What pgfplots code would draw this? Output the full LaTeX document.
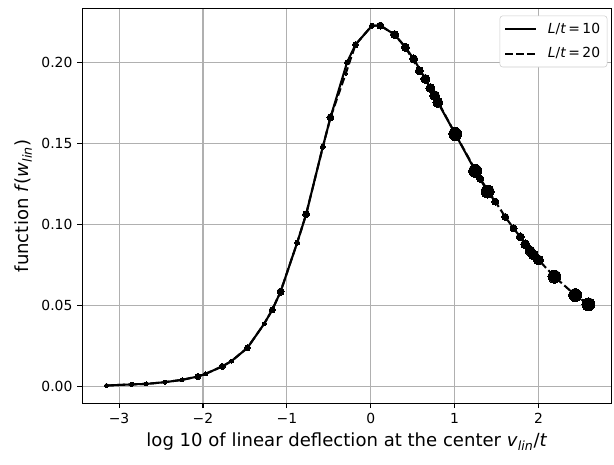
\documentclass[border=0pt]{standalone}
\usepackage{pgfplots}
\pgfplotsset{compat=1.18}
\usepackage{pgfplotstable}
\usepackage{fontspec}
\setmainfont{DejaVu Sans}
\definecolor{gridc}{HTML}{B0B0B0}
\definecolor{legc}{HTML}{CCCCCC}

\pgfplotstableread{
x y r
-3.15 0.0004 2
-2.85 0.0011 2
-2.675 0.0014 2
-2.45 0.0025 2
-2.25 0.0039 2
-2.06 0.0060 3
-1.97 0.0076 2
-1.77 0.0122 3
-1.66 0.0155 2
-1.47 0.0237 3
-1.27 0.0386 2
-1.175 0.0471 3
-1.075 0.0584 3.5
-0.877 0.0887 2.5
-0.77 0.1063 3.5
-0.571 0.1480 2.5
-0.48 0.1661 3.5
-0.30 0.1930 1.5
-0.282 0.2002 2.5
-0.182 0.2111 3
0.015 0.2229 2.5
0.115 0.2229 3.5
0.286 0.2173 4
0.413 0.2095 4
0.512 0.2023 4
0.58 0.1950 4
0.651 0.1899 4.5
0.711 0.1843 4.5
0.762 0.1796 5
0.80 0.1754 5
1.008 0.1559 6.5
1.246 0.1331 6.5
1.306 0.1282 3.5
1.393 0.1203 6.5
1.485 0.1141 3.5
1.604 0.1046 3.5
1.702 0.0976 3.5
1.782 0.0923 4
1.842 0.0877 4.5
1.90 0.0836 5
1.94 0.0811 5
2.0 0.0780 5
2.19 0.0677 6.5
2.437 0.0563 6.5
2.595 0.0506 6.5
}\pts

\pgfplotstableread{
x y
-3.15 0.0004
-2.85 0.0011
-2.675 0.0014
-2.45 0.0025
-2.25 0.0039
-2.06 0.0060
-1.97 0.0076
-1.77 0.0122
-1.66 0.0155
-1.47 0.0237
-1.27 0.0386
-1.175 0.0471
-1.075 0.0584
-0.877 0.0887
-0.77 0.1063
-0.571 0.1480
-0.48 0.1661
-0.282 0.2002
-0.182 0.2111
0.015 0.2229
0.115 0.2229
0.286 0.2173
0.413 0.2095
0.512 0.2023
0.651 0.1899
0.80 0.1754
1.008 0.1559
1.246 0.1331
1.393 0.1203
1.485 0.1141
}\lineA

\pgfplotstableread{
x y
-3.15 0.0004
-2.85 0.0011
-2.675 0.0014
-2.45 0.0025
-2.25 0.0039
-2.06 0.0060
-1.97 0.0076
-1.77 0.0122
-1.66 0.0155
-1.47 0.0237
-1.27 0.0386
-1.175 0.0471
-1.075 0.0584
-0.877 0.0887
-0.77 0.1063
-0.571 0.1480
-0.48 0.1661
-0.30 0.1930
-0.182 0.2111
0.015 0.2229
0.115 0.2229
0.286 0.2173
0.413 0.2095
0.58 0.1950
0.711 0.1843
0.762 0.1796
1.008 0.1559
1.306 0.1282
1.485 0.1141
1.604 0.1046
1.702 0.0976
1.782 0.0923
1.842 0.0877
1.90 0.0836
1.94 0.0811
2.0 0.0780
2.19 0.0677
2.437 0.0563
2.595 0.0506
}\lineB

\begin{document}
\begin{tikzpicture}
\begin{axis}[
  scale only axis,
  width=381pt, height=284pt,
  xmin=-3.44, xmax=2.87,
  ymin=-0.0105, ymax=0.2334,
  xtick={-3,-2,-1,0,1,2},
  xticklabels={−3,−2,−1,0,1,2},
  ytick={0,0.05,0.1,0.15,0.2},
  yticklabels={0.00,0.05,0.10,0.15,0.20},
  tick align=outside, tick pos=left,
  major tick length=3.5pt,
  every tick/.style={black, line width=0.8pt},
  axis line style={line width=0.8pt},
  grid=major,
  major grid style={gridc, line width=0.8pt},
  ticklabel style={font=\fontsize{10}{12}\selectfont},
  label style={font=\fontsize{13}{15}\selectfont},
  xlabel={log 10 of linear deflection at the center \textit{v}\textsubscript{\textit{lin}}/\textit{t}},
  ylabel={function \textit{f}(\textit{w}\textsubscript{\textit{lin}})},
  legend style={at={(1,1)}, anchor=north east, xshift=-3pt, yshift=-5pt,
    draw=legc, rounded corners=2pt, font=\fontsize{10}{12}\selectfont,
    inner xsep=3pt, inner ysep=3pt, row sep=5pt},
  legend cell align=left,
  legend image code/.code={\draw[#1] (0pt,0pt) -- (22pt,0pt); \path (0pt,0pt) (28pt,0pt);},
]
\addplot[black, line width=1.5pt, no marks] table[x=x,y=y]{\lineA};
\addlegendentry{\textit{L}/\textit{t}\,=\,10}
\addplot[black, line width=1.5pt, no marks, dash pattern=on 5.55pt off 2.4pt] table[x=x,y=y]{\lineB};
\addlegendentry{\textit{L}/\textit{t}\,=\,20}
\addplot[scatter, only marks, mark=*, point meta=0,
  scatter/use mapped color={draw=black, fill=black},
  mark options={line width=0pt},
  visualization depends on={\thisrow{r} \as \rad},
  scatter/@pre marker code/.append style={/tikz/mark size=0.72*\rad},
  forget plot] table[x=x,y=y]{\pts};
\end{axis}
\coordinate (sw) at (current bounding box.south west);
\coordinate (ne) at (current bounding box.north east);
\path (sw) ++(-7pt,-7pt);
\path (ne) ++(1.4pt,5.8pt);
\end{tikzpicture}
\end{document}
